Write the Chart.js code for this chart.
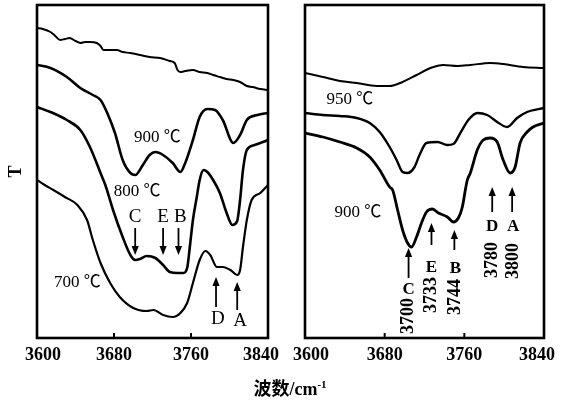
<!DOCTYPE html>
<html>
<head>
<meta charset="utf-8">
<script src="https://cdn.jsdelivr.net/npm/chart.js@4.4.1/dist/chart.umd.min.js"></script>
<style>
  html, body { margin: 0; padding: 0; background: #fff; }
  #wrap { position: relative; width: 568px; height: 400px; overflow: hidden; background: #fff; }
  #c1 { position: absolute; left: 0; top: 0; width: 290px; height: 400px; }
  #c2 { position: absolute; left: 284px; top: 0; width: 284px; height: 400px; }
  #xt { position: absolute; left: 0; width: 580px; top: 374px; text-align: center;
        font: bold 18px "Liberation Serif", "Noto Sans CJK SC", serif; color: #000; }
  #xt sup { font-size: 11px; }
</style>
</head>
<body>
<div id="wrap">
  <canvas id="c1" width="290" height="400"></canvas>
  <canvas id="c2" width="284" height="400"></canvas>
  <div id="xt">波数/cm<sup>-1</sup></div>
</div>
<script>
// Wavenumber axis (cm-1)
const wnMin = 3600, wnMax = 3840, wnStep = 80;
const innerTicks = [3680, 3760];

// Left panel: transmittance traces (arbitrary units)
const leftTopWn = [3600,3606,3614,3619,3624,3629,3634,3640,3645,3650,3655,3662,3666,3669,3676,3683,3689,3697,3707,3717,3728,3738,3743,3746,3749,3754,3762,3769,3777,3783,3790,3797,3804,3811,3818,3824,3832,3840];
const leftTopT  = [310,309,306,302,298,299,300,297,295,296,296,295,292,288,288,288,286,285,283,281,280,277,275,268,266,267,268,266,265,263,261,259,258,256,252,251,249,248];

const left900Wn = [3600,3614,3631,3645,3658,3666,3673,3681,3689,3697,3702,3710,3717,3723,3731,3741,3749,3754,3762,3769,3777,3785,3793,3804,3811,3818,3829,3840];
const left900T  = [273,270,261,250,243,238,225,205,178,165,163,173,183,186,183,175,166,175,198,221,229,228,218,195,203,218,223,225];

const left800Wn = [3600,3614,3631,3645,3655,3666,3671,3679,3689,3697,3702,3707,3714,3723,3731,3738,3746,3752,3756,3759,3762,3766,3769,3773,3777,3783,3790,3797,3803,3808,3811,3814,3818,3826,3840];
const left800T  = [231,226,218,208,191,165,153,128,101,83,78,79,82,80,73,66,65,65,70,93,118,141,158,168,166,158,145,125,113,117,138,168,188,193,198];

const left700Wn = [3600,3608,3617,3629,3642,3652,3658,3666,3676,3686,3700,3714,3721,3731,3741,3749,3756,3762,3769,3775,3780,3787,3793,3801,3808,3811,3814,3818,3823,3832,3840];
const left700T  = [158,153,148,141,133,118,98,75,55,41,30,27,28,23,21,25,35,55,78,87,83,71,71,68,63,68,91,118,138,145,153];

// Right panel: transmittance traces (arbitrary units)
const rightTopWn = [3600,3618,3635,3652,3672,3685,3698,3712,3726,3739,3753,3766,3786,3799,3819,3840];
const rightTopT  = [265,261,257,255,252,252,256,263,270,273,272,273,275,274,271,270];

const right950Wn = [3600,3618,3635,3652,3665,3675,3685,3692,3698,3703,3710,3715,3722,3733,3743,3749,3756,3764,3773,3783,3793,3803,3813,3823,3840];
const right950T  = [225,223,222,220,215,206,191,178,166,165,171,183,195,196,193,194,205,218,225,223,216,211,220,226,230];

const right900Wn = [3600,3618,3635,3652,3665,3675,3685,3688,3693,3698,3703,3707,3712,3717,3722,3728,3734,3743,3749,3754,3758,3761,3763,3766,3773,3779,3786,3793,3799,3806,3811,3816,3823,3829,3840];
const right900T  = [205,201,196,190,181,168,151,148,128,108,95,91,101,115,126,129,125,121,116,120,131,148,158,165,188,198,200,196,178,165,171,195,206,211,215];

// Band assignments (cm-1) and where their arrows sit on each panel
const bandNames = ['C', 'E', 'B', 'D', 'A'];
const bandWn    = [3700, 3733, 3744, 3780, 3800];
const leftArrowWn  = [3702, 3731, 3747, 3786, 3808];
const rightArrowWn = [3704, 3727, 3750, 3788, 3808];

const serif = '"Liberation Serif", "Times New Roman", "Noto Sans CJK SC", serif';
const tickFont = 'bold 18px ' + serif;

function series(wn, t) { return wn.map((x, i) => ({ x: x, y: t[i] })); }

function trace(wn, t, w) {
  return {
    data: series(wn, t),
    borderColor: '#000',
    borderWidth: w,
    pointRadius: 0,
    fill: false,
    cubicInterpolationMode: 'monotone',
    borderCapStyle: 'round',
    borderJoinStyle: 'round'
  };
}

// Frame, inward ticks, tick labels, annotations and arrows
const irMarks = {
  id: 'irMarks',
  afterDraw(chart, args, opts) {
    const ctx = chart.ctx, a = chart.chartArea;
    const xs = chart.scales.x, ys = chart.scales.y;
    const X = v => xs.getPixelForValue(v), Y = v => ys.getPixelForValue(v);
    ctx.save();
    ctx.strokeStyle = '#000';
    ctx.fillStyle = '#000';
    ctx.lineWidth = 2.6;
    ctx.strokeRect(a.left, a.top, a.right - a.left, a.bottom - a.top);
    ctx.lineWidth = 2;
    innerTicks.forEach(v => {
      ctx.beginPath();
      ctx.moveTo(X(v), a.bottom);
      ctx.lineTo(X(v), a.bottom - 5);
      ctx.stroke();
    });
    // tick labels: end labels are pulled in toward the frame
    ctx.font = tickFont;
    ctx.textAlign = 'center';
    ctx.textBaseline = 'middle';
    const n = xs.ticks.length;
    xs.ticks.forEach((t, i) => {
      let x = X(t.value);
      if (i === 0) x += 6;
      if (i === n - 1) x -= 7;
      ctx.fillText(String(t.value), x, a.bottom + 17);
    });
    (opts.arrows || []).forEach(ar => {
      const x = X(ar.wn), y0 = Y(ar.from), y1 = Y(ar.to);
      const dir = y1 < y0 ? -1 : 1;
      const hl = 9, hw = 3.6;
      ctx.lineWidth = 1.8;
      ctx.beginPath();
      ctx.moveTo(x, y0);
      ctx.lineTo(x, y1 - dir * hl * 0.6);
      ctx.stroke();
      ctx.beginPath();
      ctx.moveTo(x, y1);
      ctx.lineTo(x - hw, y1 - dir * hl);
      ctx.lineTo(x + hw, y1 - dir * hl);
      ctx.closePath();
      ctx.fill();
    });
    (opts.texts || []).forEach(t => {
      ctx.save();
      ctx.font = t.font;
      ctx.textAlign = 'center';
      ctx.textBaseline = 'middle';
      ctx.translate(X(t.wn), Y(t.val));
      if (t.rot) ctx.rotate(-Math.PI / 2);
      ctx.fillText(t.text, 0, 0);
      ctx.restore();
    });
    ctx.restore();
  }
};

function xScale() {
  return {
    type: 'linear',
    position: 'bottom',
    min: wnMin,
    max: wnMax,
    grid: { display: false },
    border: { display: false },
    ticks: { stepSize: wnStep, display: false },
    afterFit: s => { s.height = 62; }
  };
}

const tempFont = '17px ' + serif;
const letterFont = '19px ' + serif;
const rLetterFont = 'bold 17px ' + serif;
const numFont = 'bold 18px ' + serif;

// Left panel annotations
const leftTexts = [
  { text: '900 ℃', wn: 3725, val: 200, font: tempFont },
  { text: '800 ℃', wn: 3704, val: 146, font: tempFont },
  { text: '700 ℃', wn: 3642, val: 55, font: tempFont },
  { text: bandNames[0], wn: leftArrowWn[0], val: 121, font: letterFont },
  { text: bandNames[1], wn: leftArrowWn[1], val: 121, font: letterFont },
  { text: bandNames[2], wn: leftArrowWn[2] + 2, val: 121, font: letterFont },
  { text: bandNames[3], wn: leftArrowWn[3] + 2, val: 19, font: letterFont },
  { text: bandNames[4], wn: leftArrowWn[4] + 3, val: 17, font: letterFont }
];
const leftArrows = [
  { wn: leftArrowWn[0], from: 110, to: 83 },
  { wn: leftArrowWn[1], from: 110, to: 83 },
  { wn: leftArrowWn[2], from: 110, to: 83 },
  { wn: leftArrowWn[3], from: 31, to: 61 },
  { wn: leftArrowWn[4], from: 28, to: 56 }
];

// Right panel annotations
const rightTexts = [
  { text: '950 ℃', wn: 3645, val: 238, font: tempFont },
  { text: '900 ℃', wn: 3653, val: 125, font: tempFont },
  { text: bandNames[0], wn: rightArrowWn[0], val: 48, font: rLetterFont },
  { text: String(bandWn[0]), wn: rightArrowWn[0], val: 22, font: numFont, rot: true },
  { text: bandNames[1], wn: rightArrowWn[1], val: 70, font: rLetterFont },
  { text: String(bandWn[1]), wn: rightArrowWn[1], val: 43, font: numFont, rot: true },
  { text: bandNames[2], wn: rightArrowWn[2] + 1, val: 69, font: rLetterFont },
  { text: String(bandWn[2]), wn: rightArrowWn[2] + 1, val: 41, font: numFont, rot: true },
  { text: bandNames[3], wn: rightArrowWn[3], val: 111, font: rLetterFont },
  { text: String(bandWn[3]), wn: rightArrowWn[3], val: 78, font: numFont, rot: true },
  { text: bandNames[4], wn: rightArrowWn[4] + 1, val: 111, font: rLetterFont },
  { text: String(bandWn[4]), wn: rightArrowWn[4] + 1, val: 77, font: numFont, rot: true }
];
const rightArrows = [
  { wn: rightArrowWn[0], from: 60, to: 90 },
  { wn: rightArrowWn[1], from: 93, to: 115 },
  { wn: rightArrowWn[2], from: 88, to: 108 },
  { wn: rightArrowWn[3], from: 126, to: 151 },
  { wn: rightArrowWn[4], from: 126, to: 151 }
];

const common = {
  responsive: false,
  animation: false,
  events: [],
  plugins: { legend: { display: false }, tooltip: { enabled: false } }
};

new Chart(document.getElementById('c1'), {
  type: 'line',
  data: {
    datasets: [
      trace(leftTopWn, leftTopT, 2),
      trace(left900Wn, left900T, 2.6),
      trace(left800Wn, left800T, 2.6),
      trace(left700Wn, left700T, 2.2)
    ]
  },
  options: Object.assign({}, common, {
    layout: { padding: { left: 0, right: 22, top: 5, bottom: 0 } },
    scales: {
      x: xScale(),
      y: {
        min: 0, max: 333,
        position: 'left',
        grid: { display: false },
        border: { display: false },
        ticks: { display: false },
        title: { display: true, text: 'T', color: '#000', padding: { top: 6, bottom: 0 },
                 font: { family: serif, size: 18, weight: 'bold' } },
        afterFit: s => { s.width = 37; }
      }
    },
    plugins: Object.assign({}, common.plugins, { irMarks: { texts: leftTexts, arrows: leftArrows } })
  }),
  plugins: [irMarks]
});

new Chart(document.getElementById('c2'), {
  type: 'line',
  data: {
    datasets: [
      trace(rightTopWn, rightTopT, 2),
      trace(right950Wn, right950T, 2.4),
      trace(right900Wn, right900T, 2.8)
    ]
  },
  options: Object.assign({}, common, {
    layout: { padding: { left: 21, right: 24, top: 5, bottom: 0 } },
    scales: {
      x: xScale(),
      y: { min: 0, max: 333, display: false }
    },
    plugins: Object.assign({}, common.plugins, { irMarks: { texts: rightTexts, arrows: rightArrows } })
  }),
  plugins: [irMarks]
});
</script>
</body>
</html>
